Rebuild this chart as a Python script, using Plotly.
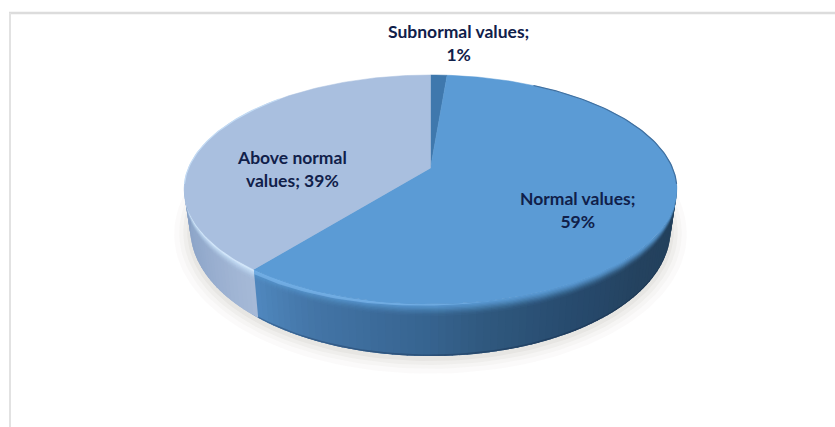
import numpy as np
import plotly.graph_objects as go

# --- data -------------------------------------------------------------
categories = ["Subnormal values", "Normal values", "Above normal values"]
values = [1.3, 59.4, 39.3]
label_lines = [["Subnormal values;", "1%"], ["Normal values;", "59%"], ["Above normal", "values; 39%"]]

# --- styling ----------------------------------------------------------
face_colors = ["#3f78ad", "#5b9bd5", "#a9bfdf"]
text_color = "#10204a"
label_font = dict(family="Lato", size=17.5, color=text_color)
label_pos = [(458, 43), (577, 210), (292, 169)]

# perspective pie geometry (pixels; axes map 1:1 to the canvas)
CX, CY, A, B, K = 430.5, 168.0, 242.0, 110.5, 0.188


def project(theta):
    u, v = np.sin(theta), np.cos(theta)
    w = 1 + K * v
    return CX + A * u / w, CY - B * v / w


def lower(theta, frac):
    """Point on the side wall at fractional depth `frac` below the rim."""
    x, y = project(theta)
    d = 36 - 16 * np.cos(theta)
    return CX + (x - CX) * (1 - 0.025 * frac), y + d * frac


def rgb(h):
    return np.array([int(h[i:i + 2], 16) for i in (1, 3, 5)], float)


def css(c):
    c = np.clip(c, 0, 255).round().astype(int)
    return f"rgb({c[0]},{c[1]},{c[2]})"


def ramp(deg, stops):
    ds = [s[0] for s in stops]
    cs = np.array([rgb(s[1]) for s in stops])
    return np.array([np.interp(deg, ds, cs[:, i]) for i in range(3)])


side_stops = {
    1: [(100, "#223f5b"), (130, "#24425f"), (150, "#274a6d"), (170, "#30597f"),
        (180, "#36638f"), (205, "#4476a8"), (219, "#5088bf")],
    2: [(219, "#a6b9d7"), (240, "#93aacc"), (263, "#859ec3")],
}
rim_rgb = {1: "91,155,213", 2: "205,229,251"}
band_depths = [0.23, 0.20, 0.175, 0.15, 0.125, 0.10, 0.075, 0.05, 0.025]
band_weights = [0.05, 0.12, 0.22, 0.34, 0.48, 0.62, 0.75, 0.86, 0.95]

fractions = np.array(values, float) / sum(values)
edges = np.concatenate([[0], np.cumsum(fractions)]) * 2 * np.pi

fig = go.Figure()


def poly(xs, ys, color, lw=0.0):
    fig.add_trace(go.Scatter(
        x=list(xs), y=list(ys), mode="lines", fill="toself", fillcolor=color,
        line=dict(color=color, width=lw),
        hoverinfo="skip", showlegend=False,
    ))


def wall(ts, f0, f1, color):
    xa, ya = lower(ts, f0)
    xb, yb = lower(ts[::-1], f1[::-1] if np.ndim(f1) else f1)
    poly(np.r_[xa, xb, xa[0]], np.r_[ya, yb, ya[0]], color)


# soft ground shadow
t_all = np.linspace(0, 2 * np.pi, 181)
for grow, col in [(16, "rgba(120,110,90,0.03)"), (11, "rgba(120,110,90,0.035)"),
                  (7, "rgba(120,110,90,0.05)"), (3, "rgba(120,110,90,0.06)")]:
    x, y = lower(t_all, 1.0)
    poly(CX + (x - CX) * (1 + grow / 240), (y - 190) * (1 + grow / 170) + 190 + 2, col)

# side wall: each slice's visible extent is cut into overlapping strips
vis_lo, vis_hi = np.radians(97), np.radians(263)
for idx in (1, 2):
    lo, hi = max(edges[idx], vis_lo), min(edges[idx + 1], vis_hi)
    n = int(np.degrees(hi - lo) / 1.5) + 1
    ts = np.linspace(lo, hi, n + 1)
    dt = ts[1] - ts[0]
    for th in ts[:-1]:
        end = min(th + 2.2 * dt, vis_hi)
        base = ramp(np.degrees(th + dt / 2), side_stops[idx])
        wall(np.array([th, end]), 0.0, 1.0, css(base))

# shading that spans a whole slice, so it has no vertical seams
for idx in (1, 2):
    lo, hi = max(edges[idx], vis_lo), min(edges[idx + 1], vis_hi)
    ts = np.linspace(lo, hi, 90)
    if idx == 1:
        wall(ts, 0.97, 1.0, "rgba(10,25,50,0.25)")
    prev = 0.0
    for f, w in zip(band_depths, band_weights):
        a = 1 - (1 - w) / (1 - prev)
        prev = w
        wall(ts, 0.0, f, f"rgba({rim_rgb[idx]},{a:.3f})")
    if idx == 1:
        # blue highlight that widens towards the slice's left end
        ts_h = np.linspace(np.radians(165), hi, 50)
        taper = 0.10 * (ts_h - ts_h[0]) / (ts_h[-1] - ts_h[0])
        wall(ts_h, 0.0, taper, "rgba(150,205,255,0.40)")
    else:
        wall(ts, 0.0, 0.05, "rgba(230,242,255,0.35)")

# top face
for i, col in enumerate(face_colors):
    th = np.linspace(edges[i], edges[i + 1], max(int((edges[i + 1] - edges[i]) * 60), 3))
    x, y = project(th)
    poly([CX, *x, CX], [CY, *y, CY], col, lw=0.5)

# back-edge outlines of the top face
for i, col in [(1, "#3f6f9f"), (2, "#c3dbf4")]:
    lo, hi = (edges[i] + np.radians(25), np.radians(98)) if i == 1 else (np.radians(262), edges[i + 1] - np.radians(45))
    th = np.linspace(lo, hi, 60)
    x, y = project(th)
    fig.add_trace(go.Scatter(x=x, y=y, mode="lines", line=dict(color=col, width=1.2),
                             hoverinfo="skip", showlegend=False))

# labels
annotations = [
    dict(x=px, y=py, xref="x", yref="y", showarrow=False, align="center",
         text="<b>" + "<br>".join(lines) + "</b>", font=label_font)
    for lines, (px, py) in zip(label_lines, label_pos)
]

fig.update_layout(
    width=835, height=427, margin=dict(l=0, r=0, t=0, b=0),
    paper_bgcolor="white", plot_bgcolor="white", annotations=annotations,
    xaxis=dict(range=[0, 835], visible=False, fixedrange=True),
    yaxis=dict(range=[427, 0], visible=False, fixedrange=True),
    shapes=[
        dict(type="line", xref="x", yref="y", x0=9, x1=835, y0=13, y1=13,
             line=dict(color="#dcdcdc", width=2.5), layer="below"),
        dict(type="line", xref="x", yref="y", x0=10, x1=10, y0=13, y1=427,
             line=dict(color="#e2e2e2", width=2), layer="below"),
    ],
)
fig.write_html("out.html", config=dict(displayModeBar=False),
               post_script="document.body.style.margin='0';")
